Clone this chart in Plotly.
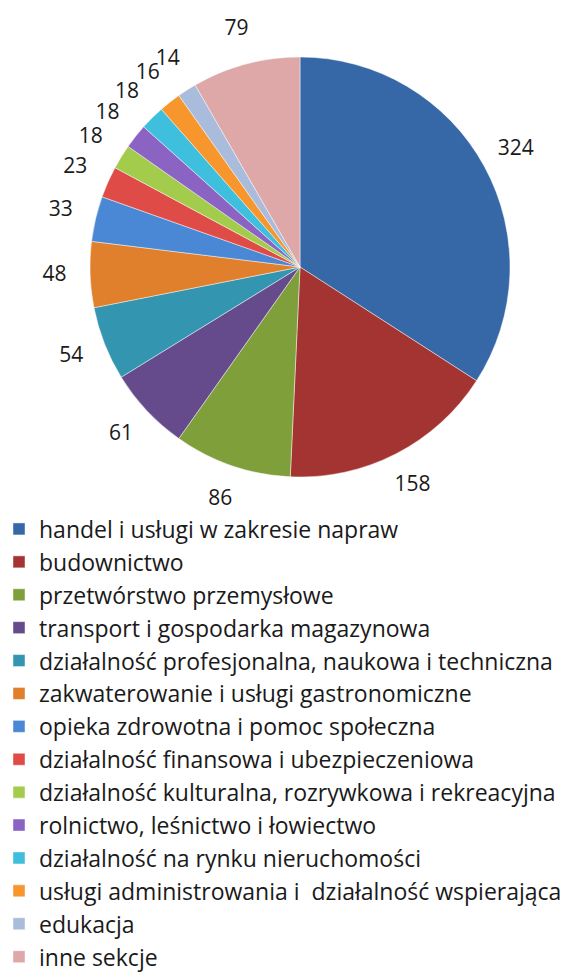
import itertools
import plotly.graph_objects as go

categories = [
    "handel i usługi w zakresie napraw",
    "budownictwo",
    "przetwórstwo przemysłowe",
    "transport i gospodarka magazynowa",
    "działalność profesjonalna, naukowa i techniczna",
    "zakwaterowanie i usługi gastronomiczne",
    "opieka zdrowotna i pomoc społeczna",
    "działalność finansowa i ubezpieczeniowa",
    "działalność kulturalna, rozrywkowa i rekreacyjna",
    "rolnictwo, leśnictwo i łowiectwo",
    "działalność na rynku nieruchomości",
    "usługi administrowania i \u00a0działalność wspierająca",
    "edukacja",
    "inne sekcje",
]
values = [324, 158, 86, 61, 54, 48, 33, 23, 18, 18, 18, 16, 14, 79]
colors = [
    "#3667a6", "#a33431", "#7f9f3b", "#654b8c", "#3495b0", "#e07f2c",
    "#4a88d6", "#df4b47", "#a4cc4c", "#8a63c3", "#3dbfdd", "#f7962c",
    "#a9bcdc", "#dfa8a8",
]

# --- layout geometry (figure pixels; page has an 8px body margin) ---
W, H = 571, 976
cx, cy = 292, 259          # pie centre in figure pixels
R = 210                    # pie radius
RP = 259                   # radius of the (invisible) polar frame used for labels
LABEL_R = 1.17             # label distance, in pie radii

# mid-angle of each slice (degrees, clockwise from 12 o'clock), from the data
total = sum(values)
cum = [0] + list(itertools.accumulate(values))
mid_deg = [360.0 * (cum[i] + values[i] / 2) / total for i in range(len(values))]

FONT = "Open Sans, Noto Sans, sans-serif"

fig = go.Figure()
fig.add_trace(go.Pie(
    labels=categories,
    values=values,
    sort=False,
    direction="clockwise",
    rotation=0,
    textinfo="none",
    marker=dict(colors=colors, line=dict(color="rgba(255,255,255,0.45)", width=1)),
    domain=dict(x=[(cx - R) / W, (cx + R) / W], y=[(H - cy - R) / H, (H - cy + R) / H]),
    hoverinfo="label+value",
))

fig.add_trace(go.Scatterpolar(
    r=[LABEL_R] * len(values),
    theta=mid_deg,
    mode="text",
    text=[str(v) for v in values],
    textposition="middle center",
    textfont=dict(family=FONT, size=21, color="#1a1a1a"),
    showlegend=False,
    hoverinfo="skip",
    cliponaxis=False,
))

fig.update_layout(
    width=W, height=H,
    margin=dict(l=0, r=0, t=0, b=0),
    paper_bgcolor="white",
    plot_bgcolor="white",
    showlegend=True,
    polar=dict(
        domain=dict(x=[(cx - RP) / W, (cx + RP) / W], y=[(H - cy - RP) / H, (H - cy + RP) / H]),
        bgcolor="rgba(0,0,0,0)",
        radialaxis=dict(range=[0, RP / R], visible=False, showgrid=False),
        angularaxis=dict(rotation=90, direction="clockwise", visible=False,
                         showgrid=False, showline=False, showticklabels=False, ticks=""),
    ),
    legend=dict(
        orientation="v",
        x=0, xanchor="left",
        y=1 - 499.5 / H, yanchor="top",
        indentation=-9,
        font=dict(family=FONT, size=23, color="#1a1a1a"),
        bgcolor="rgba(0,0,0,0)",
        itemwidth=30,
    ),
)

fig.write_html("out.html")
